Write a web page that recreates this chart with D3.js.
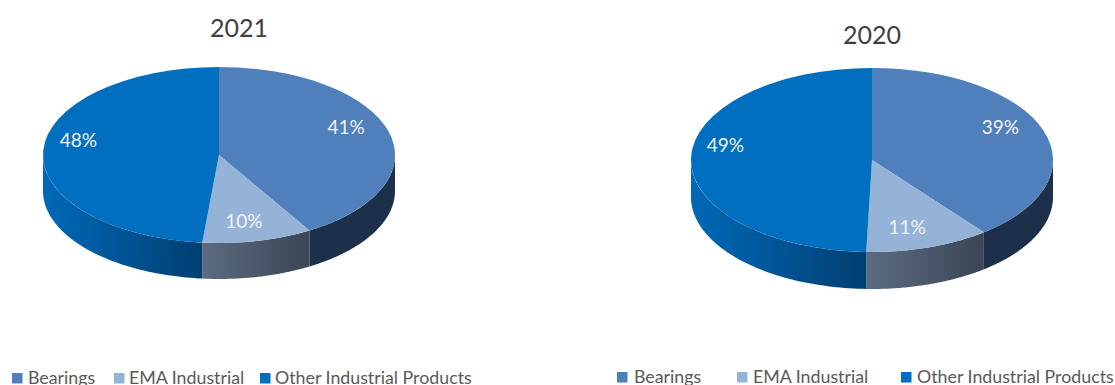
<!DOCTYPE html>
<html>
<head>
<meta charset="utf-8">
<script src="https://cdnjs.cloudflare.com/ajax/libs/d3/7.8.5/d3.min.js"></script>
<style>
  html, body { margin: 0; padding: 0; background: #fff; overflow: hidden; }
  text { font-family: Lato, "Open Sans", sans-serif; }
</style>
</head>
<body>
<svg id="chart" width="1115" height="385"></svg>
<script>
// Product mix by year
const categories = ["Bearings", "EMA Industrial", "Other Industrial Products"];
const values2021 = [41, 10, 48];
const values2020 = [39, 11, 49];

const topColors = ["#4f80bc", "#95b3d7", "#006fc0"];
// Side wall shading, left to right across each slice
const wallStops = [
  ["#1d3049", "#1d3049"],
  ["#5c6b80", "#3b4657"],
  ["#0069b8", "#003f72"]
];

const pies = [
  {
    id: "y2021", title: "2021", values: values2021,
    cx: 219, cy: 155, rx: 176, ry: 88, depth: 36,
    titleX: 239, titleY: 37, titleSize: 25,
    labelRadius: [0.75, 0.64, 0.80], labelLift: [10, -11, 11],
    legend: { y: 378, swatch: [12, 114, 260], text: [28, 129, 275] }
  },
  {
    id: "y2020", title: "2020", values: values2020,
    cx: 872, cy: 160, rx: 181, ry: 92, depth: 37,
    titleX: 872, titleY: 44, titleSize: 25,
    labelRadius: [0.75, 0.62, 0.81], labelLift: [10, -13, 14],
    legend: { y: 377, swatch: [617, 737, 901], text: [634, 753, 917] }
  }
];

const svg = d3.select("#chart");
const defs = svg.append("defs");
const pieLayout = d3.pie().sort(null).value(d => d);
const HALF = Math.PI / 2;

pies.forEach(p => {
  const g = svg.append("g").attr("class", p.id);
  const slices = pieLayout(p.values);

  // Maps a pie angle (clockwise from 12 o'clock) onto the tilted ellipse
  const ex = a => p.cx + p.rx * Math.sin(a);
  const ey = a => p.cy - p.ry * Math.cos(a);

  // Walls: only the part of each slice facing the viewer is visible
  slices.forEach((s, i) => {
    const a0 = Math.max(s.startAngle, HALF);
    const a1 = Math.min(s.endAngle, 3 * HALF);
    if (a1 <= a0) return;

    const angles = d3.range(0, 65).map(k => a0 + (a1 - a0) * k / 64);
    const wall = d3.area()
      .x(a => ex(a))
      .y0(a => ey(a))
      .y1(a => ey(a) + p.depth);

    const gradId = `${p.id}-wall-${i}`;
    const grad = defs.append("linearGradient")
      .attr("id", gradId)
      .attr("gradientUnits", "userSpaceOnUse")
      .attr("x1", ex(a1)).attr("x2", ex(a0))
      .attr("y1", 0).attr("y2", 0);
    grad.append("stop").attr("offset", 0).attr("stop-color", wallStops[i][0]);
    grad.append("stop").attr("offset", 1).attr("stop-color", wallStops[i][1]);

    g.append("path")
      .attr("d", wall(angles))
      .attr("fill", `url(#${gradId})`);
  });

  // Top face: a circular pie squashed vertically into the ellipse
  const arc = d3.arc().innerRadius(0).outerRadius(p.rx);
  g.append("g")
    .attr("transform", `translate(${p.cx},${p.cy}) scale(1,${p.ry / p.rx})`)
    .selectAll("path")
    .data(slices)
    .join("path")
    .attr("d", arc)
    .attr("fill", (d, i) => topColors[i]);

  // Percentage labels
  g.selectAll("text.pct")
    .data(slices)
    .join("text")
    .attr("class", "pct")
    .attr("x", (d, i) => {
      const m = (d.startAngle + d.endAngle) / 2;
      return p.cx + p.rx * p.labelRadius[i] * Math.sin(m);
    })
    .attr("y", (d, i) => {
      const m = (d.startAngle + d.endAngle) / 2;
      return p.cy - p.ry * p.labelRadius[i] * Math.cos(m) - p.labelLift[i];
    })
    .attr("dy", "0.36em")
    .attr("text-anchor", "middle")
    .attr("font-size", 19)
    .attr("fill", "#f2f2f2")
    .text(d => `${d.value}%`);

  // Title
  g.append("text")
    .attr("x", p.titleX).attr("y", p.titleY)
    .attr("text-anchor", "middle")
    .attr("font-size", p.titleSize)
    .attr("fill", "#404040")
    .text(p.title);

  // Legend
  const legend = g.append("g");
  legend.selectAll("rect")
    .data(categories)
    .join("rect")
    .attr("x", (d, i) => p.legend.swatch[i])
    .attr("y", p.legend.y - 5)
    .attr("width", 10.5).attr("height", 10.5)
    .attr("fill", (d, i) => topColors[i]);
  legend.selectAll("text")
    .data(categories)
    .join("text")
    .attr("x", (d, i) => p.legend.text[i])
    .attr("y", p.legend.y + 6)
    .attr("font-size", 17.8)
    .attr("fill", "#595959")
    .text(d => d);
});
</script>
</body>
</html>
